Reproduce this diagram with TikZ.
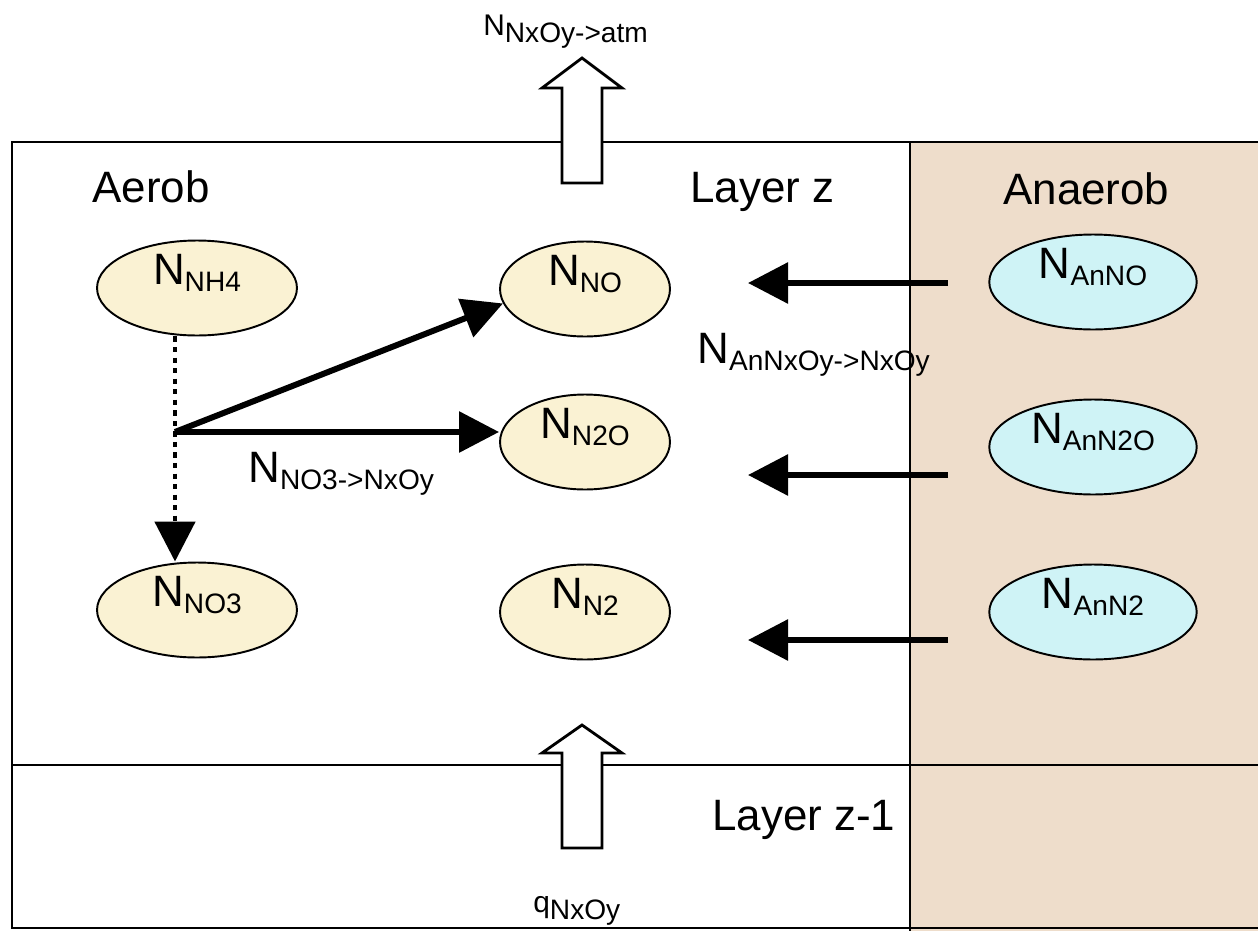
\documentclass[tikz,border=0pt]{standalone}
\usepackage{fontspec}
\setmainfont{Liberation Sans}
\usetikzlibrary{shapes.geometric,arrows.meta}
\definecolor{aerobfill}{HTML}{FAF2D3}
\definecolor{anaerobfill}{HTML}{CFF3F6}
\definecolor{soiltan}{HTML}{EEDDCB}
\tikzstyle{lbl}=[font=\fontsize{25}{28}\selectfont,inner sep=0pt]
\tikzstyle{pool}=[ellipse,draw,line width=1.1pt,minimum height=1.9cm,inner sep=0pt]
\tikzstyle{aerpool}=[pool,fill=aerobfill,minimum width=4cm]
\tikzstyle{gaspool}=[pool,fill=aerobfill,minimum width=3.4cm]
\tikzstyle{anpool}=[pool,fill=anaerobfill,minimum width=4.15cm]
\tikzstyle{flux}=[draw,line width=3.4pt,-{Triangle[length=0.8cm,width=0.8cm]}]
\tikzstyle{wall}=[draw,line width=1.6pt]
\tikzstyle{bigarrow}=[draw,fill=white,line width=1.6pt]
\tikzset{pooltext/.style={label={[lbl,yshift=0.3cm]center:#1}}}
\newcommand{\pn}[2]{#1\raisebox{-4pt}{\fontsize{16}{18}\selectfont #2}}

\begin{document}
\begin{tikzpicture}[x=0.02cm,y=-0.02cm]
\useasboundingbox (0,0) rectangle (1258,930);
% layers and soil column
\fill[soiltan] (910,142) rectangle (1262,934);
\draw[wall] (12,142) rectangle (1262,928);
\draw[wall] (12,765) -- (1262,765);
\draw[wall] (910,142) -- (910,934);
\node[lbl,anchor=base west] (aerob) at (92,202) {Aerob};
\node[lbl,anchor=base west] (layz) at (690,202) {Layer z};
\node[lbl,anchor=base west] (anaerob) at (1003,204) {Anaerob};
\node[lbl,anchor=base west] (layzm) at (712,830) {Layer z-1};

% exchange with atmosphere and layer below
\draw[bigarrow] (562,183) -- (562,88) -- (542,88) -- (582,58) -- (622,88) -- (602,88) -- (602,183) -- cycle;
\draw[bigarrow] (562,848) -- (562,753) -- (542,753) -- (582,725) -- (622,753) -- (602,753) -- (602,848) -- cycle;
\node[lbl,font=\fontsize{17}{20}\selectfont,anchor=base west] (atm) at (483,35) {\pn{N}{NxOy->atm}};
\node[lbl,font=\fontsize{17}{20}\selectfont,anchor=base west] (qin) at (533,912) {\pn{q}{NxOy}};

% pools
\node[aerpool,pooltext={\pn{N}{NH4}}] (nh4) at (197,288) {};
\node[aerpool,pooltext={\pn{N}{NO3}}] (no3) at (197,610) {};
\node[gaspool,pooltext={\pn{N}{NO}}] (no) at (585,289) {};
\node[gaspool,pooltext={\pn{N}{N2O}}] (n2o) at (585,442) {};
\node[gaspool,pooltext={\pn{N}{N2}}] (n2) at (585,612) {};
\node[anpool,pooltext={\pn{N}{AnNO}}] (anno) at (1093,282) {};
\node[anpool,pooltext={\pn{N}{AnN2O}}] (ann2o) at (1093,447) {};
\node[anpool,pooltext={\pn{N}{AnN2}}] (ann2) at (1093,612) {};

% nitrification and denitrification
\coordinate (split) at (175,432);
\draw[flux,line width=2.8pt,dash pattern=on 3pt off 3pt] (nh4.south -| split) -- (split) -- (no3.north -| split);
\draw[flux] (split) -- (no.190);
\draw[flux] (split) -- (split -| n2o.west);
\node[lbl,anchor=base west] (denit) at (248,482) {\pn{N}{NO3->NxOy}};

% diffusion from anaerobic part
\coordinate (annoout) at (948,283);
\coordinate (annoin) at (748,283);
\coordinate (ann2oout) at (948,475);
\coordinate (ann2oin) at (748,475);
\coordinate (ann2out) at (948,640);
\coordinate (ann2in) at (748,640);
\draw[flux] (annoout) -- (annoin);
\draw[flux] (ann2oout) -- (ann2oin);
\draw[flux] (ann2out) -- (ann2in);
\node[lbl,anchor=base west] (andiff) at (697,363) {\pn{N}{AnNxOy->NxOy}};
\end{tikzpicture}
\end{document}
